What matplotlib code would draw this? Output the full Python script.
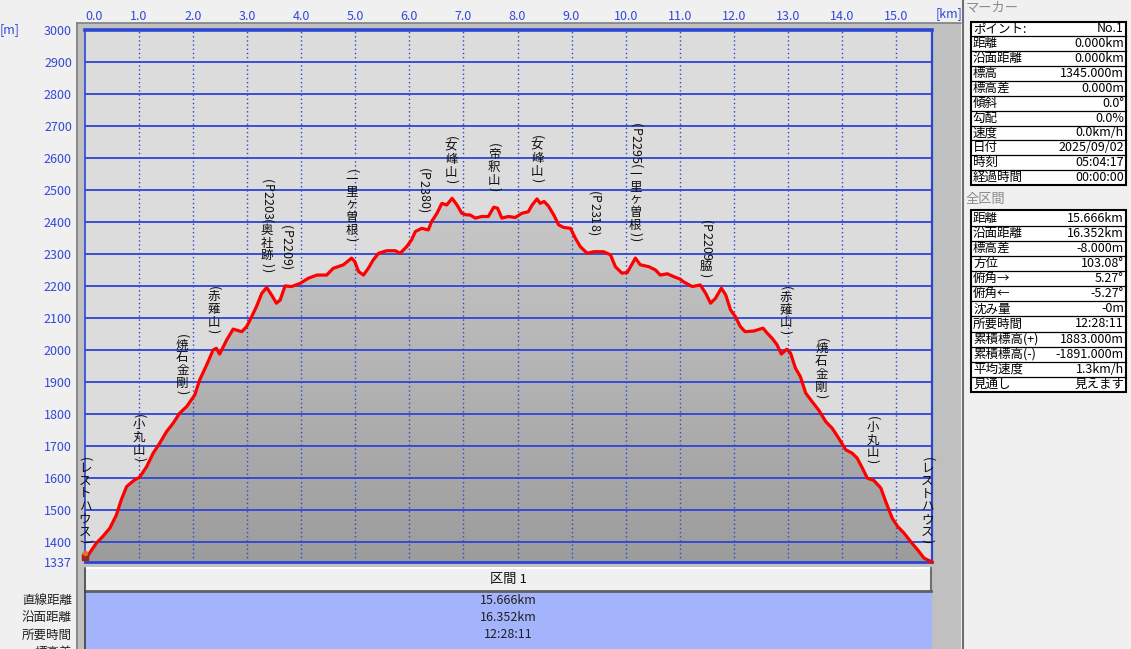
import numpy as np
import matplotlib
matplotlib.use('Agg')
import matplotlib.pyplot as plt
from matplotlib.patches import Rectangle, Polygon
from matplotlib.lines import Line2D
from matplotlib.colors import LinearSegmentedColormap

plt.rcParams['font.family'] = ['Noto Sans CJK JP', 'DejaVu Sans']

W, H = 1131, 649
BLUE = '#2c46d2'
TICKBLUE = '#3348d6'
FS = 9

# elevation profile (km, m)
dist_km = [0.00, 0.06, 0.21, 0.33, 0.46, 0.58, 0.67, 0.77, 0.92, 1.01, 1.14, 1.26, 1.38,
           1.51, 1.63, 1.75, 1.88, 2.03, 2.12, 2.25, 2.37, 2.43, 2.49, 2.62, 2.74, 2.90,
           2.99, 3.06, 3.17, 3.27, 3.36, 3.45, 3.54, 3.61, 3.70, 3.82, 3.98, 4.13, 4.29,
           4.47, 4.59, 4.78, 4.93, 4.99, 5.06, 5.15, 5.24, 5.33, 5.43, 5.58, 5.74, 5.83,
           5.95, 6.04, 6.11, 6.23, 6.35, 6.41, 6.51, 6.60, 6.69, 6.79, 6.88, 6.97, 7.06,
           7.12, 7.22, 7.34, 7.46, 7.56, 7.63, 7.71, 7.83, 7.96, 8.08, 8.20, 8.27, 8.36,
           8.42, 8.49, 8.57, 8.67, 8.76, 8.85, 8.98, 9.07, 9.16, 9.29, 9.41, 9.59, 9.72,
           9.81, 9.93, 10.03, 10.09, 10.18, 10.27, 10.43, 10.55, 10.64, 10.77, 10.89, 11.01,
           11.07, 11.23, 11.38, 11.48, 11.57, 11.66, 11.77, 11.85, 11.94, 12.03, 12.12,
           12.21, 12.37, 12.54, 12.62, 12.71, 12.80, 12.88, 12.98, 13.05, 13.14, 13.23,
           13.33, 13.45, 13.57, 13.70, 13.82, 13.94, 14.07, 14.19, 14.28, 14.38, 14.47,
           14.59, 14.72, 14.81, 14.93, 15.03, 15.15, 15.27, 15.40, 15.52, 15.666]
elev_m = [1345, 1359, 1396, 1417, 1443, 1484, 1531, 1573, 1594, 1602, 1635, 1677, 1708,
          1745, 1771, 1802, 1823, 1859, 1906, 1953, 2000, 2005, 1987, 2031, 2065, 2057,
          2073, 2096, 2135, 2177, 2195, 2172, 2146, 2156, 2200, 2198, 2208, 2224, 2234,
          2234, 2255, 2266, 2287, 2276, 2245, 2234, 2255, 2281, 2302, 2310, 2310, 2302,
          2323, 2344, 2370, 2380, 2375, 2401, 2427, 2458, 2453, 2474, 2453, 2427, 2422,
          2422, 2412, 2417, 2417, 2446, 2443, 2412, 2417, 2414, 2427, 2432, 2453, 2472,
          2458, 2464, 2450, 2422, 2391, 2383, 2380, 2349, 2323, 2302, 2307, 2307, 2297,
          2260, 2240, 2242, 2260, 2287, 2266, 2260, 2250, 2234, 2238, 2229, 2221,
          2213, 2198, 2203, 2177, 2146, 2161, 2193, 2172, 2125, 2104, 2073,
          2057, 2059, 2068, 2052, 2036, 2016, 1987, 2002, 1990, 1943, 1917,
          1865, 1838, 1812, 1776, 1755, 1724, 1688, 1677, 1662, 1630, 1599,
          1592, 1568, 1526, 1474, 1448, 1427, 1401, 1375, 1349, 1337]

wp_km = [0.0, 1.0, 1.80, 2.38, 3.37, 3.72, 4.93, 6.26, 6.77, 7.57, 8.36, 9.41, 10.18,
         11.48, 12.96, 13.62, 14.57, 15.58]
wp_name = ['(レストハウス)', '(小丸山)', '(焼石金剛)', '(赤薙山)', '(P2203(奥社跡))', '(P2209)',
           '(一里ヶ曽根)', '(P2380)', '(女峰山)', '(帝釈山)', '(女峰山)', '(P2318)',
           '(P2295(一里ヶ曽根))', '(P2209脇)', '(赤薙山)', '(焼石金剛)', '(小丸山)', '(レストハウス)']

xticks = list(range(16))
yticks = [1337] + list(range(1400, 3001, 100))

marker_keys = ['ポイント:', '距離', '沿面距離', '標高', '標高差', '傾斜', '勾配', '速度', '日付', '時刻', '経過時間']
marker_vals = ['No.1', '0.000km', '0.000km', '1345.000m', '0.000m', '0.0°', '0.0%', '0.0km/h',
               '2025/09/02', '05:04:17', '00:00:00']
total_keys = ['距離', '沿面距離', '標高差', '方位', '俯角→', '俯角←', '沈み量', '所要時間',
              '累積標高(+)', '累積標高(-)', '平均速度', '見通し']
total_vals = ['15.666km', '16.352km', '-8.000m', '103.08°', '5.27°', '-5.27°', '-0m', '12:28:11',
              '1883.000m', '-1891.000m', '1.3km/h', '見えます']
sec_keys = ['直線距離', '沿面距離', '所要時間', '標高差']
sec_vals = ['15.666km', '16.352km', '12:28:11', '']


def fx(px):
    return px / W


def fy(py):
    return 1 - py / H


def frect(x0, y0, x1, y1, **kw):
    r = Rectangle((fx(x0), fy(y1)), fx(x1) - fx(x0), fy(y0) - fy(y1),
                  transform=fig.transFigure, **kw)
    fig.patches.append(r)


def fline(x0, y0, x1, y1, **kw):
    fig.lines.append(Line2D([fx(x0), fx(x1)], [fy(y0), fy(y1)], transform=fig.transFigure, **kw))


fig = plt.figure(figsize=(W / 100, H / 100), dpi=100, facecolor='#f0f0f0')

# frame around the graph
frect(76, 22.5, 961, 649, facecolor='#c0c0c0', edgecolor='none', zorder=-5)
fline(76.5, 22.5, 76.5, 649, color='#808080', lw=1.2, zorder=-4)
fline(76.5, 22.5, 961, 22.5, color='#808080', lw=1.2, zorder=-4)
fline(961.5, 0, 961.5, 649, color='#ffffff', lw=1, zorder=-4)
fline(963, 0, 963, 649, color='#707070', lw=1.5, zorder=-4)

ax = fig.add_axes([fx(85), fy(562), fx(932) - fx(85), fy(30) - fy(562)])
ax.set_zorder(3)
ax.set_facecolor('#dcdcdc')
ax.set_xlim(0, dist_km[-1])
ax.set_ylim(1337, 3000)

# gradient under the profile
cmap = LinearSegmentedColormap.from_list('g', ['#9c9c9c', '#dedede'])
img = ax.imshow(np.linspace(0, 1, 256).reshape(-1, 1), extent=[0, dist_km[-1], 1337, 3000],
                origin='lower', aspect='auto', cmap=cmap, zorder=1)
poly = Polygon(list(zip(dist_km, elev_m)) + [(dist_km[-1], 1337), (0, 1337)],
               closed=True, facecolor='none', edgecolor='none')
ax.add_patch(poly)
img.set_clip_path(poly)

for v in range(1400, 3000, 100):
    ax.axhline(v, color=BLUE, lw=1.3, zorder=2)
for k in range(1, 16):
    ax.axvline(k, color=BLUE, lw=1.0, ls=(0, (1, 2)), zorder=2)

ax.plot(dist_km, elev_m, color='#ff0000', lw=2.3, zorder=5, clip_on=False)

for s in ax.spines.values():
    s.set_color(BLUE)
ax.spines['top'].set_linewidth(2.6)
ax.spines['right'].set_linewidth(1.6)
ax.spines['bottom'].set_linewidth(2.0)
ax.spines['left'].set_linewidth(1.2)
ax.spines['left'].set_linestyle((0, (1, 1)))

ax.xaxis.tick_top()
ax.set_xticks(xticks)
ax.set_xticklabels([f'{k:.1f}' for k in xticks])
ax.get_xticklabels()[0].set_horizontalalignment('left')
ax.tick_params(axis='x', length=0, pad=5, labelcolor=TICKBLUE, labelsize=FS)
ax.set_yticks(yticks)
ax.set_yticklabels([str(v) for v in yticks])
ax.tick_params(axis='y', length=0, pad=9.4, labelcolor=TICKBLUE, labelsize=FS)

fig.text(fx(936), fy(14), '[km]', color=TICKBLUE, fontsize=FS, ha='left', va='center')
fig.text(fx(0), fy(30), '[m]', color=TICKBLUE, fontsize=FS, ha='left', va='center')

# waypoint labels, written vertically
GAP = 11.5
for km, name in zip(wp_km, wp_name):
    base = np.interp(km, dist_km, elev_m)
    off = GAP
    for ch in reversed(name):
        if ord(ch) < 128:
            adv = 3.6 if ch in '()' else (5.4 if ch == 'P' else 5.0)
            rot = 270
        else:
            adv = 9.2
            rot = 0
        ax.annotate(ch, (km, base), xytext=(0, off + adv / 2), textcoords='offset points',
                    ha='center', va='center', rotation=rot, fontsize=FS, color='#101010',
                    annotation_clip=False, zorder=6)
        off += adv

# start marker (hiker)
ax.plot([0.0], [1352], marker='s', ms=4, color='#a02020', clip_on=False, zorder=7)
ax.plot([0.0], [1366], marker='o', ms=3, color='#e07030', clip_on=False, zorder=7)

# section table below the graph
frect(85, 568, 931, 591, facecolor='#f0f0f0', edgecolor='none', zorder=1)
fline(85, 568, 931, 568, color='#ffffff', lw=1.5, zorder=2)
fline(931, 568, 931, 591, color='#707070', lw=1.5, zorder=2)
fline(85, 591, 931, 591, color='#606060', lw=2, zorder=2)
frect(85, 592, 932, 649, facecolor='#a4b4fc', edgecolor='none', zorder=1)
fline(84.5, 568, 84.5, 649, color='#404040', lw=1.2, zorder=2)
fig.text(fx(508), fy(579.5), '区間 1', fontsize=9.5, ha='center', va='center', color='#101010')
for i, (k, v) in enumerate(zip(sec_keys, sec_vals)):
    y = 600 + i * 17.5
    fig.text(fx(72), fy(y), k, fontsize=FS, ha='right', va='center', color='#202020')
    fig.text(fx(508), fy(y), v, fontsize=FS, ha='center', va='center', color='#202020')


# right info panel
def info_table(title, title_y, top, bottom, keys, vals):
    fig.text(fx(966), fy(title_y), title, fontsize=9.5, ha='left', va='center', color='#8a8a8a')
    frect(971, top, 1126, bottom, facecolor='#ffffff', edgecolor='#000000', lw=1.5, zorder=1)
    h = (bottom - top) / len(keys)
    for i, (k, v) in enumerate(zip(keys, vals)):
        yc = top + (i + 0.5) * h
        if i > 0:
            fline(971, top + i * h, 1126, top + i * h, color='#000000', lw=0.9, zorder=2)
        fig.text(fx(973), fy(yc), k, fontsize=FS, ha='left', va='center', color='#000000')
        fig.text(fx(1124), fy(yc), v, fontsize=FS, ha='right', va='center', color='#000000')


info_table('マーカー', 8, 21.5, 185, marker_keys, marker_vals)
info_table('全区間', 199, 210.5, 392, total_keys, total_vals)

fig.savefig('out.png', dpi=100, facecolor=fig.get_facecolor())
